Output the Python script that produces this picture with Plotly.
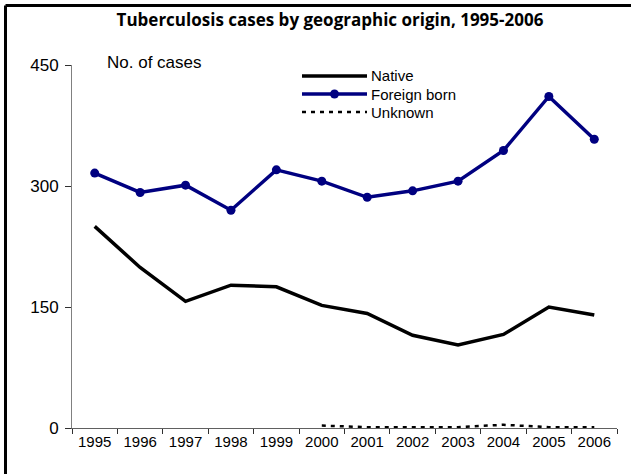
import plotly.graph_objects as go

years = ["1995", "1996", "1997", "1998", "1999", "2000", "2001", "2002", "2003", "2004", "2005", "2006"]
native = [250, 199, 157, 177, 175, 152, 142, 115, 103, 116, 150, 140]
foreign_born = [316, 292, 301, 270, 320, 306, 286, 294, 306, 344, 411, 358]
unknown = [None, None, None, None, None, 3, 1, 1, 1, 4, 1, 1]
y_ticks = [0, 150, 300, 450]

NAVY = "#000080"
FONT = "Liberation Sans, Arial"

L, R, T, B = 72, 14, 65, 46
W, H = 631, 474
PW, PH = W - L - R, H - T - B


def px(xpix):
    return (xpix - L) / PW


def py(ypix):
    return (H - B - ypix) / PH


fig = go.Figure()
fig.add_trace(go.Scatter(x=years, y=native, name="Native", mode="lines",
                         line=dict(color="black", width=3.5)))
fig.add_trace(go.Scatter(x=years, y=foreign_born, name="Foreign born", mode="lines+markers",
                         line=dict(color=NAVY, width=3.5),
                         marker=dict(color=NAVY, size=9)))
fig.add_trace(go.Scatter(x=years, y=unknown, name="Unknown", mode="lines",
                         line=dict(color="black", width=2.5, dash="4px,5px")))

fig.update_layout(
    width=W, height=H,
    margin=dict(l=L, r=R, t=T, b=B),
    paper_bgcolor="white", plot_bgcolor="white",
    title=dict(text="<b>Tuberculosis cases by geographic origin, 1995-2006</b>",
               x=px(330), xanchor="center", xref="paper", y=1 - 20 / H, yanchor="middle",
               font=dict(family="Open Sans", size=17, color="black")),
    xaxis=dict(type="category", tickson="boundaries", ticks="outside", ticklen=5,
               tickcolor="#303030", showline=True, linecolor="#606060", linewidth=1,
               showgrid=False, tickfont=dict(family=FONT, size=15, color="black"),
               range=[-0.5, 11.5]),
    yaxis=dict(range=[0, 450], tickvals=y_ticks, ticks="outside", ticklen=6,
               tickcolor="#303030", showline=True, linecolor="#808080", linewidth=1,
               showgrid=False, zeroline=False, ticklabelstandoff=3,
               tickfont=dict(family=FONT, size=17, color="black")),
    showlegend=False,
)

fig.add_annotation(text="No. of cases", xref="paper", yref="paper", x=px(105), y=py(63),
                   xanchor="left", yanchor="middle", showarrow=False,
                   font=dict(family=FONT, size=17, color="black"))

# legend drawn to match the original (long line samples)
legend_items = [
    ("Native", dict(color="black", width=3.5), False, 76),
    ("Foreign born", dict(color=NAVY, width=3.5), True, 94),
    ("Unknown", dict(color="black", width=2.5, dash="4px,5px"), False, 112),
]
for label, line, has_marker, ypix in legend_items:
    fig.add_shape(type="line", xref="paper", yref="paper",
                  x0=px(302), x1=px(367), y0=py(ypix), y1=py(ypix), line=line)
    if has_marker:
        fig.add_shape(type="circle", xref="paper", yref="paper",
                      x0=px(330), x1=px(339), y0=py(ypix + 4.5), y1=py(ypix - 4.5),
                      fillcolor=NAVY, line=dict(color=NAVY, width=0))
    fig.add_annotation(text=label, xref="paper", yref="paper", x=px(369), y=py(ypix),
                       xanchor="left", yanchor="middle", showarrow=False,
                       font=dict(family=FONT, size=15, color="black"))

# frame lines (top & left) of the original cropped figure
fig.add_shape(type="line", xref="paper", yref="paper",
              x0=px(5.5), x1=px(640), y0=py(5.5), y1=py(5.5),
              line=dict(color="black", width=3))
fig.add_shape(type="line", xref="paper", yref="paper",
              x0=px(5.5), x1=px(5.5), y0=py(5.5), y1=py(480),
              line=dict(color="black", width=3))

fig.write_html("out.html", config={"displayModeBar": False},
               post_script="document.body.style.margin='0';")
